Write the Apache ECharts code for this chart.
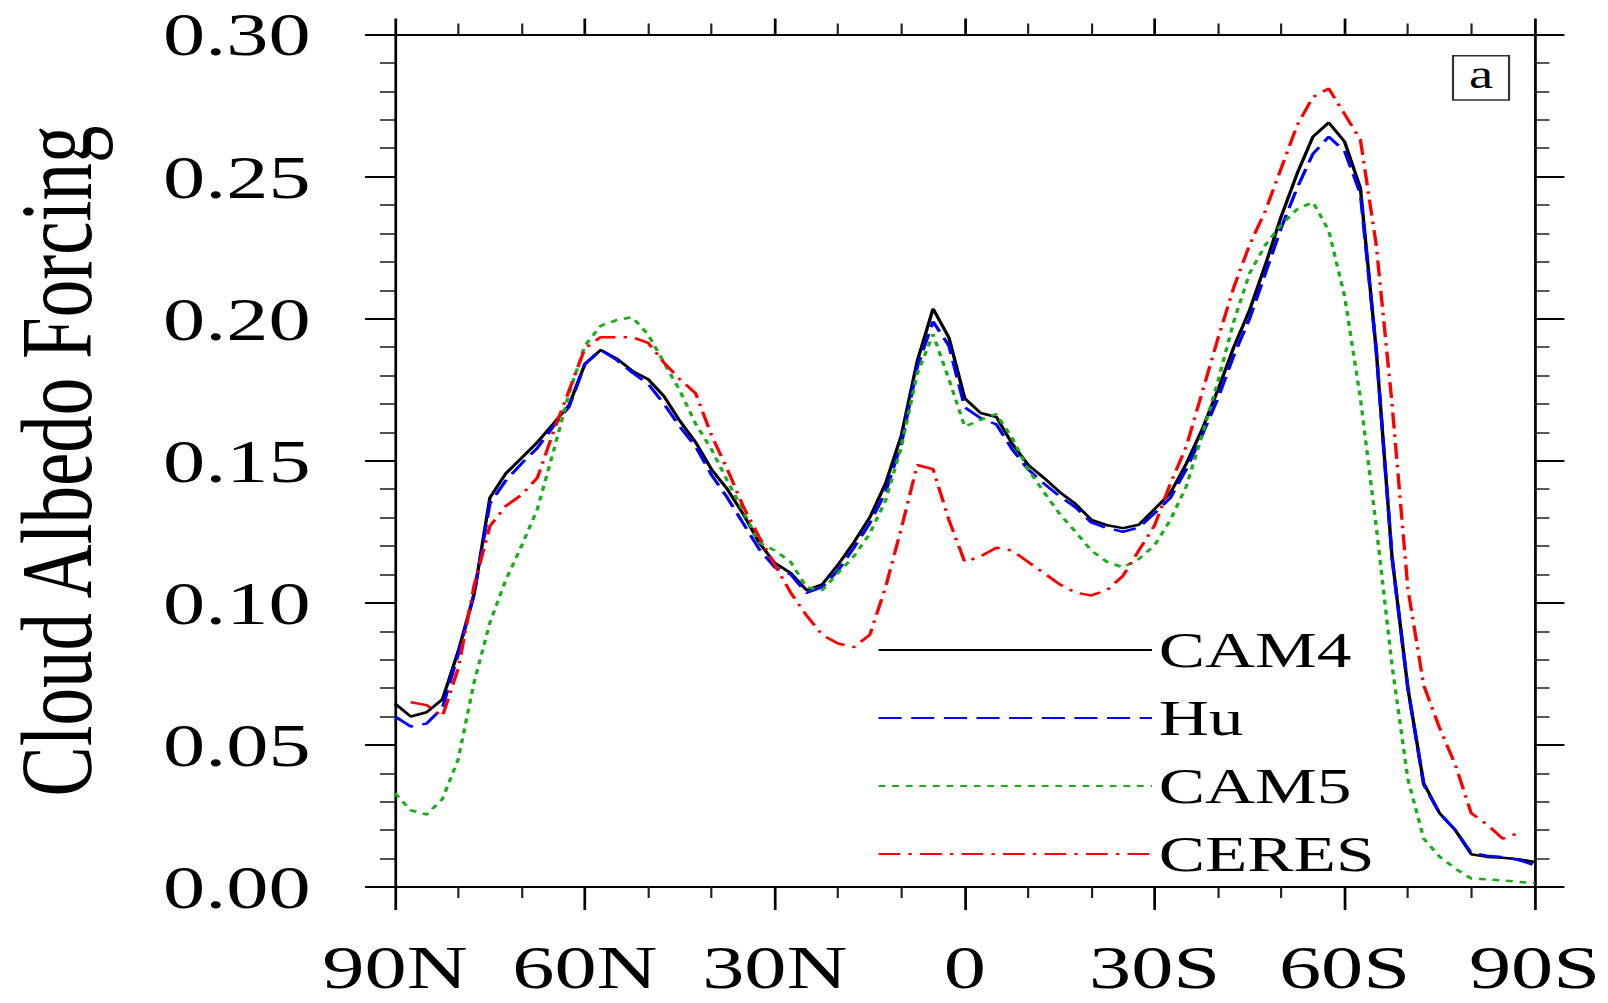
<!DOCTYPE html>
<html>
<head>
<meta charset="utf-8">
<script src="https://cdn.jsdelivr.net/npm/echarts/dist/echarts.min.js"></script>
<style>
html,body{margin:0;padding:0;background:#fff;overflow:hidden;}
#main{width:1182px;height:1003px;transform:scaleX(1.36);transform-origin:0 0;}
</style>
</head>
<body>
<div id="main"></div>
<script>
// Latitude grid (degrees, + = North)
const lat = [90, 87.5, 85, 82.5, 80, 77.5, 75, 72.5, 70, 67.5, 65, 62.5,
  60, 57.5, 55, 52.5, 50, 47.5, 45, 42.5, 40, 37.5, 35, 32.5,
  30, 27.5, 25, 22.5, 20, 17.5, 15, 12.5, 10, 7.5, 5, 2.5,
  0, -2.5, -5, -7.5, -10, -12.5, -15, -17.5, -20, -22.5, -25, -27.5,
  -30, -32.5, -35, -37.5, -40, -42.5, -45, -47.5, -50, -52.5, -55, -57.5,
  -60, -62.5, -65, -67.5, -70, -72.5, -75, -77.5, -80, -82.5, -85, -87.5, -90];

const CAM4 = [0.0645, 0.060, 0.0615, 0.066, 0.083, 0.103, 0.137, 0.1455, 0.151, 0.1565, 0.163, 0.1696,
  0.184, 0.189, 0.186, 0.1816, 0.1787, 0.1727, 0.164, 0.1565, 0.147, 0.140, 0.1313, 0.1213,
  0.114, 0.1105, 0.1045, 0.1065, 0.1134, 0.1213, 0.130, 0.142, 0.159, 0.185, 0.2035, 0.1934,
  0.172, 0.1668, 0.1654, 0.156, 0.1486, 0.144, 0.139, 0.1348, 0.1292, 0.1273, 0.1263, 0.1275,
  0.133, 0.1387, 0.149, 0.161, 0.175, 0.190, 0.203, 0.219, 0.236, 0.251, 0.264, 0.269,
  0.2623, 0.246, 0.189, 0.116, 0.070, 0.0365, 0.026, 0.020, 0.0115, 0.0106, 0.0103, 0.0098, 0.0088];

const Hu = [0.060, 0.0565, 0.0575, 0.063, 0.082, 0.103, 0.135, 0.143, 0.149, 0.1545, 0.162, 0.169,
  0.184, 0.189, 0.1855, 0.181, 0.177, 0.170, 0.162, 0.155, 0.145, 0.137, 0.128, 0.119,
  0.1125, 0.110, 0.1035, 0.1055, 0.1114, 0.1194, 0.128, 0.139, 0.156, 0.183, 0.199, 0.1905,
  0.1688, 0.165, 0.1628, 0.154, 0.147, 0.142, 0.1375, 0.1336, 0.1283, 0.1263, 0.125, 0.1265,
  0.1315, 0.137, 0.147, 0.159, 0.172, 0.187, 0.200, 0.216, 0.232, 0.246, 0.258, 0.264,
  0.259, 0.244, 0.189, 0.116, 0.070, 0.036, 0.026, 0.020, 0.012, 0.011, 0.0105, 0.0095, 0.0077];

const CAM5 = [0.033, 0.027, 0.0255, 0.031, 0.045, 0.072, 0.093, 0.108, 0.120, 0.133, 0.153, 0.1737,
  0.1905, 0.1975, 0.1995, 0.2005, 0.1944, 0.1845, 0.1747, 0.163, 0.154, 0.143, 0.1323, 0.1213,
  0.1184, 0.1144, 0.1055, 0.1045, 0.1105, 0.1164, 0.1243, 0.136, 0.155, 0.1806, 0.1945, 0.1787,
  0.162, 0.1644, 0.1664, 0.158, 0.147, 0.139, 0.1313, 0.125, 0.1184, 0.1144, 0.1125, 0.1154,
  0.1203, 0.1292, 0.141, 0.159, 0.178, 0.199, 0.216, 0.226, 0.233, 0.2385, 0.241, 0.231,
  0.208, 0.172, 0.127, 0.078, 0.038, 0.017, 0.0107, 0.0065, 0.003, 0.0027, 0.0023, 0.0018, 0.0014];

const CERES = [null, 0.065, 0.064, 0.060, 0.077, 0.106, 0.127, 0.134, 0.138, 0.144, 0.160, 0.1747,
  0.1895, 0.1935, 0.1935, 0.1935, 0.1915, 0.1845, 0.1787, 0.1737, 0.159, 0.147, 0.134, 0.1233,
  0.1134, 0.1036, 0.0956, 0.0887, 0.0857, 0.0844, 0.0887, 0.1055, 0.1263, 0.1485, 0.147, 0.1292,
  0.1144, 0.1164, 0.1194, 0.1184, 0.1144, 0.1105, 0.1065, 0.1036, 0.1026, 0.1045, 0.1095, 0.1184,
  0.1273, 0.142, 0.155, 0.174, 0.193, 0.211, 0.226, 0.238, 0.253, 0.268, 0.278, 0.281,
  0.272, 0.263, 0.226, 0.170, 0.105, 0.071, 0.056, 0.043, 0.026, 0.022, 0.017, 0.019, null];

const seriesNames = ['CAM4', 'Hu', 'CAM5', 'CERES'];
const xTickLabels = ['90N', '60N', '30N', '0', '30S', '60S', '90S'];
const yTickLabels = ['0.00', '0.05', '0.10', '0.15', '0.20', '0.25', '0.30'];
const yTitle = 'Cloud Albedo Forcing';
const panelLabel = 'a';

const FONT = '"Liberation Serif", "Times New Roman", serif';

function pairs(vals) { return lat.map((l, i) => [l, vals[i]]); }

const chart = echarts.init(document.getElementById('main'), null, {renderer: 'svg', width: 1182, height: 1003});

const baseX = {
  type: 'value', min: -90, max: 90, interval: 30, inverse: true,
  splitLine: {show: false}, minorSplitLine: {show: false},
  axisLine: {show: true, onZero: false, lineStyle: {color: '#000', width: 2}}
};
const baseY = {
  type: 'value', min: 0, max: 0.3, interval: 0.05,
  splitLine: {show: false}, minorSplitLine: {show: false},
  axisLine: {show: true, onZero: false, lineStyle: {color: '#000', width: 2}}
};

const option = {
  animation: false,
  backgroundColor: '#fff',
  grid: {left: 290.4, right: 53.7, top: 34.5, bottom: 116, containLabel: false, outerBoundsMode: 'none'},
  xAxis: [
    Object.assign({}, baseX, {
      position: 'bottom',
      axisTick: {show: true, inside: false, length: 23, lineStyle: {color: '#000', width: 2}},
      minorTick: {show: true, splitNumber: 3, length: 11, lineStyle: {color: '#222', width: 1.6}},
      axisLabel: {
        show: true, margin: 55, fontSize: 62, lineHeight: 50, fontFamily: FONT, color: '#000',
        showMinLabel: true, showMaxLabel: true,
        formatter: v => xTickLabels[Math.round((90 - v) / 30)]
      }
    }),
    Object.assign({}, baseX, {
      position: 'top',
      axisTick: {show: true, inside: false, length: 16, lineStyle: {color: '#000', width: 2}},
      minorTick: {show: true, splitNumber: 3, length: 11, lineStyle: {color: '#222', width: 1.6}},
      axisLabel: {show: false}
    })
  ],
  yAxis: [
    Object.assign({}, baseY, {
      position: 'left',
      axisTick: {show: true, inside: false, length: 22, lineStyle: {color: '#000', width: 2}},
      minorTick: {show: true, splitNumber: 5, length: 11, lineStyle: {color: '#222', width: 1.6}},
      axisLabel: {
        show: true, margin: 62, fontSize: 62, lineHeight: 56, fontFamily: FONT, color: '#000',
        showMinLabel: true, showMaxLabel: true,
        formatter: v => yTickLabels[Math.round(v / 0.05)]
      }
    }),
    Object.assign({}, baseY, {
      position: 'right',
      axisTick: {show: true, inside: false, length: 22, lineStyle: {color: '#000', width: 2}},
      minorTick: {show: true, splitNumber: 5, length: 11, lineStyle: {color: '#222', width: 1.6}},
      axisLabel: {show: false}
    })
  ],
  legend: {
    show: true, orient: 'vertical', left: 645, top: 624.5, padding: 0,
    itemWidth: 201, itemHeight: 14, itemGap: 17, selectedMode: false,
    data: seriesNames,
    itemStyle: {opacity: 0, color: 'transparent', borderWidth: 0},
    textStyle: {fontFamily: FONT, fontSize: 51, lineHeight: 51, color: '#000'}
  },
  series: [
    {name: seriesNames[0], type: 'line', data: pairs(CAM4), symbol: 'none', showSymbol: false, z: 3,
     lineStyle: {color: '#000000', width: 2.5, type: 'solid'}, itemStyle: {color: '#000000'}},
    {name: seriesNames[1], type: 'line', data: pairs(Hu), symbol: 'none', showSymbol: false, z: 4,
     lineStyle: {color: '#0000ff', width: 2.5, type: [17, 7]}, itemStyle: {color: '#0000ff'}},
    {name: seriesNames[2], type: 'line', data: pairs(CAM5), symbol: 'none', showSymbol: false, z: 5,
     lineStyle: {color: '#1aad1a', width: 2.5, type: [5, 5]}, itemStyle: {color: '#1aad1a'}},
    {name: seriesNames[3], type: 'line', data: pairs(CERES), symbol: 'none', showSymbol: false, z: 6,
     connectNulls: false,
     lineStyle: {color: '#ff0000', width: 2.5, type: [16, 6, 2.5, 6]}, itemStyle: {color: '#ff0000'}}
  ],
  graphic: [
    {type: 'text', x: 41, y: 461, rotation: Math.PI / 2,
     style: {text: yTitle, fontFamily: FONT, fontSize: 75, lineHeight: 58, fill: '#000', align: 'center', verticalAlign: 'middle'}},
    {type: 'rect', shape: {x: 1068.4, y: 55.7, width: 41.2, height: 44.3},
     style: {fill: '#fff', stroke: '#333', lineWidth: 1.6}, z: 10},
    {type: 'text', x: 1089, y: 74, z: 11,
     style: {text: panelLabel, fontFamily: FONT, fontSize: 40, fill: '#000', align: 'center', verticalAlign: 'middle'}}
  ]
};
chart.setOption(option);
</script>
</body>
</html>
